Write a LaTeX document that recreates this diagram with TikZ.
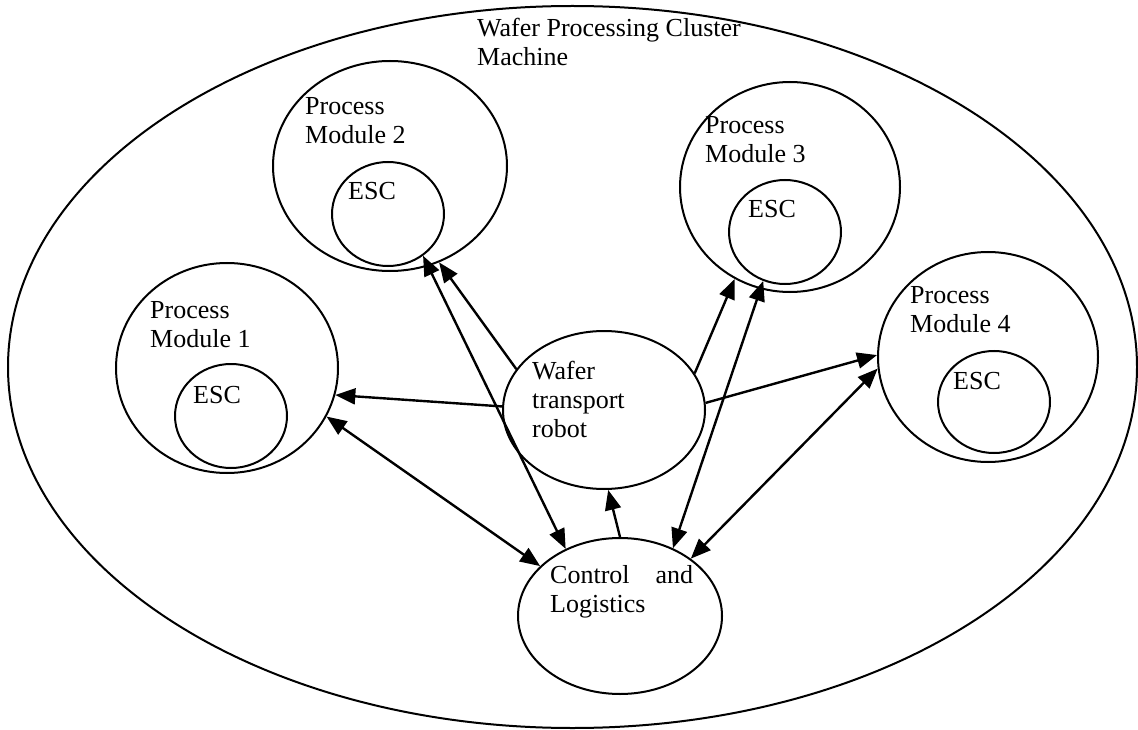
\documentclass[tikz,border=0pt]{standalone}
\usepackage{fontspec}
\setmainfont{Liberation Serif}
\usetikzlibrary{shapes.geometric,arrows.meta}

\begin{document}
\begin{tikzpicture}[x=1pt,y=-1pt,
        oval/.style={ellipse,draw,line width=2pt,inner sep=0pt},
        lbl/.style={anchor=base west,inner sep=0pt,align=left,font=\fontsize{26}{29}\selectfont},
        arr/.style={-{Triangle[length=20pt,width=16pt]},line width=2.4pt},
        dbl/.style={{Triangle[length=20pt,width=16pt]}-{Triangle[length=20pt,width=16pt]},line width=2.4pt}]
        \useasboundingbox (0,0) rectangle (1138,730);
        \node[oval,minimum width=1129pt,minimum height=722pt] (cm) at (572.5,367){};
        \node[oval,minimum width=222pt,minimum height=210pt] (m1) at (227,368){};
        \node[oval,minimum width=234pt,minimum height=210pt] (m2) at (390,166){};
        \node[oval,minimum width=220pt,minimum height=210pt] (m3) at (790,187){};
        \node[oval,minimum width=220pt,minimum height=210pt] (m4) at (988,357){};
        \node[oval,minimum width=112pt,minimum height=104pt] (e1) at (231,416){};
        \node[oval,minimum width=112pt,minimum height=104pt] (e2) at (388,214){};
        \node[oval,minimum width=112pt,minimum height=104pt] (e3) at (785,232){};
        \node[oval,minimum width=112pt,minimum height=102pt] (e4) at (994,402){};
        \node[oval,minimum width=202pt,minimum height=158pt] (rb) at (604,410){};
        \node[oval,minimum width=204pt,minimum height=156pt] (cl) at (620,616){};
        \node[lbl] (tcm) at (477,66){Wafer Processing Cluster\\Machine};
        \node[lbl] (tm1) at (150,347){Process\\Module 1};
        \node[lbl] (tm2) at (305,144){Process\\Module 2};
        \node[lbl] (tm3) at (705,163){Process\\Module 3};
        \node[lbl] (tm4) at (910,332){Process\\Module 4};
        \node[lbl] (te1) at (193,403){ESC};
        \node[lbl] (te2) at (348,200){ESC};
        \node[lbl] (te3) at (748,218){ESC};
        \node[lbl] (te4) at (953,389){ESC};
        \node[lbl] (trb) at (532,437){Wafer\\transport\\robot};
        \node[lbl,text width=143pt,align=justify] (tcl) at (550,583){Control and Logistics};
        \draw[arr] (rb.178) -- (m1.-14);
        \draw[dbl] (m1.-26) -- (cl.148);
        \draw[arr] (rb.155) -- (m2.-63);
        \draw[dbl] (e2.-50) -- (cl.129);
        \draw[arr] (cl.90) -- (rb.-87);
        \draw[arr] (rb.22) -- (m3.-121);
        \draw[dbl] (e3.-114) -- (cl.52);
        \draw[arr] (rb.4) -- (m4.179);
        \draw[dbl] (m4.-174) -- (cl.39);
\end{tikzpicture}
\end{document}
